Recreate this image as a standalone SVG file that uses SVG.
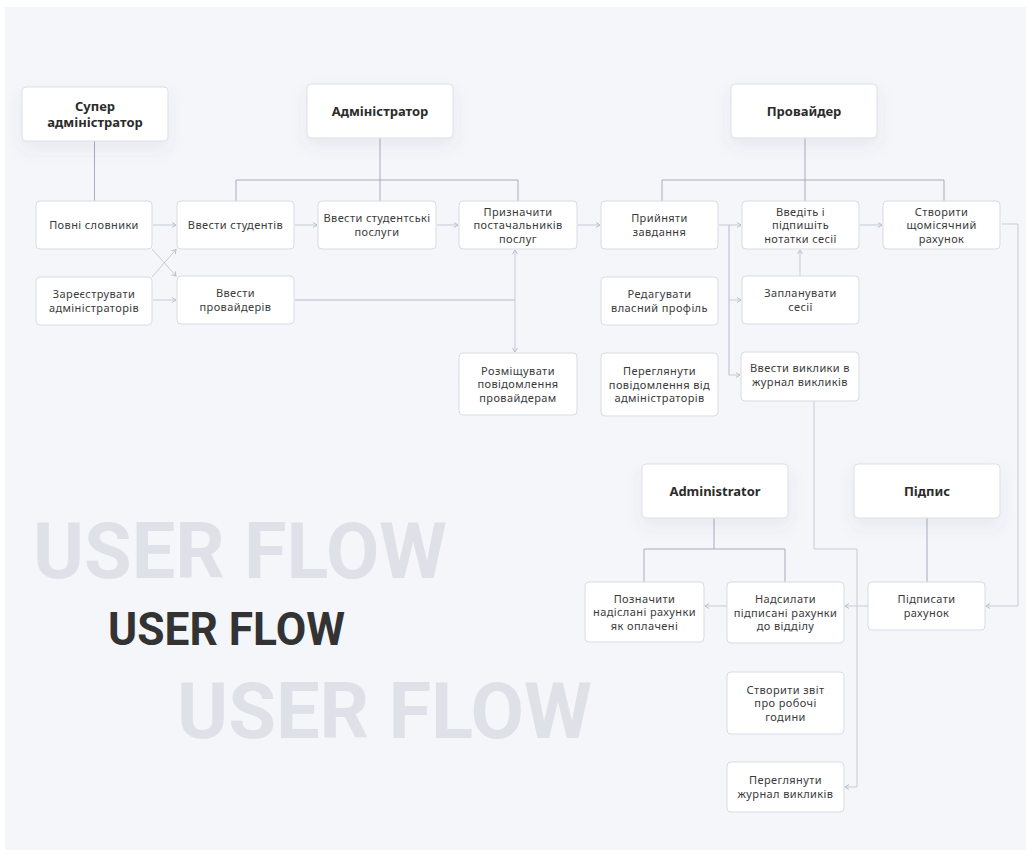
<svg xmlns="http://www.w3.org/2000/svg" width="1031" height="856" viewBox="0 0 1031 856">
<style>
.bg{fill:#f5f6fa}
.n{fill:#ffffff;stroke:#d8dbe3;stroke-width:1}
.h{fill:#ffffff;stroke:#dcdfe6;stroke-width:1;filter:url(#sh)}
.t{font-family:"Noto Sans","Open Sans","DejaVu Sans",sans-serif;font-size:11px;letter-spacing:0.4px;fill:#3a3a3a;text-anchor:middle}
.ht{font-family:"Noto Sans","Open Sans","DejaVu Sans",sans-serif;font-size:13px;font-weight:700;fill:#2b2b2b;text-anchor:middle}
.s{fill:none;stroke:#a3acc0;stroke-width:1}
.a{fill:none;stroke:#c6cbd7;stroke-width:1;marker-end:url(#ar)}
.m{fill:none;stroke:#b3bacb;stroke-width:1}
.uf{font-family:Roboto,"Liberation Sans",sans-serif;font-weight:700}
</style>
<defs>
<filter id="sh" x="-30%" y="-30%" width="160%" height="190%">
<feDropShadow dx="0" dy="8" stdDeviation="8" flood-color="#5a6275" flood-opacity="0.08"/>
</filter>
<marker id="ar" markerWidth="8" markerHeight="8" refX="5" refY="3" orient="auto" markerUnits="userSpaceOnUse">
<path d="M1,0.5 L5,3 L1,5.5" fill="none" stroke="#b9bfcd" stroke-width="1"/>
</marker>
</defs>
<rect x="0" y="0" width="1031" height="856" fill="#ffffff"/>
<rect class="bg" x="5" y="7" width="1021" height="843"/>

<g id="title">
<text class="uf" x="33" y="578" font-size="77" fill="#dfe1e8" textLength="414" lengthAdjust="spacingAndGlyphs">USER FLOW</text>
<text class="uf" x="108" y="645" font-size="46" fill="#333333" textLength="237" lengthAdjust="spacingAndGlyphs">USER FLOW</text>
<text class="uf" x="177" y="738" font-size="77" fill="#dfe1e8" textLength="415" lengthAdjust="spacingAndGlyphs">USER FLOW</text>
</g>

<g id="connectors">
<path class="s" d="M94.5,141 V201"/>
<path class="s" d="M380,138 V201"/>
<path class="s" d="M236,201 V180 H518 V201"/>
<path class="s" d="M805,138 V201"/>
<path class="s" d="M662,201 V180 H944 V201"/>
<path class="s" d="M714,518 V549"/>
<path class="s" d="M644,582 V549 H785 V582"/>
<path class="s" d="M927,518 V582"/>

<path class="a" d="M153,225 H176"/>
<path class="a" d="M152,249 L176,276"/>
<path class="a" d="M152,277 L176,249.5"/>
<path class="a" d="M153,300 H176"/>
<path class="a" d="M295,225 H317"/>
<path class="a" d="M437,225 H458"/>
<path class="a" d="M578,225 H600"/>
<path class="a" d="M719,225 H741"/>
<path class="a" d="M860,225 H882"/>
<path class="m" d="M295,300 H515"/>
<path class="a" d="M515,300 V250"/>
<path class="a" d="M515,300 V352"/>
<path class="a" d="M800,276 V250"/>
<path class="m" d="M729,225 V375"/>
<path class="a" d="M729,300 H741"/>
<path class="a" d="M729,375 H740"/>
<path class="a" d="M1002,224 H1018 V606 H986"/>
<path class="a" d="M868,606 H845"/>
<path class="a" d="M727,606 H705"/>
<path class="a" d="M814,401 V549 H857 V787 H845"/>
</g>

<g id="n-super"><rect class="h" x="22" y="87" width="146" height="54" rx="4"/><text class="ht" x="95" y="110.7">Супер</text><text class="ht" x="95" y="126.7">адміністратор</text></g>
<g id="n-admin"><rect class="h" x="307" y="84" width="146" height="54" rx="4"/><text class="ht" x="380" y="115.7">Адміністратор</text></g>
<g id="n-provider"><rect class="h" x="731" y="84" width="146" height="54" rx="4"/><text class="ht" x="804" y="115.7">Провайдер</text></g>
<g id="n-administrator"><rect class="h" x="642" y="464" width="146" height="54" rx="4"/><text class="ht" x="715" y="495.7">Administrator</text></g>
<g id="n-pidpys"><rect class="h" x="854" y="464" width="146" height="54" rx="4"/><text class="ht" x="927" y="495.7">Підпис</text></g>

<g id="n-povni"><rect class="n" x="36" y="201" width="116" height="48" rx="4"/><text class="t" x="94" y="229">Повні словники</text></g>
<g id="n-zareyestr"><rect class="n" x="36" y="277" width="116" height="48" rx="4"/><text class="t" x="94" y="298.2">Зареєструвати</text><text class="t" x="94" y="311.8">адміністраторів</text></g>
<g id="n-vvstud"><rect class="n" x="177" y="201" width="117" height="48" rx="4"/><text class="t" x="235.5" y="229">Ввести студентів</text></g>
<g id="n-vvprov"><rect class="n" x="177" y="276" width="117" height="48" rx="4"/><text class="t" x="235.5" y="297.2">Ввести</text><text class="t" x="235.5" y="310.8">провайдерів</text></g>
<g id="n-vvposl"><rect class="n" x="318" y="201" width="118" height="48" rx="4"/><text class="t" x="377" y="222.2">Ввести студентські</text><text class="t" x="377" y="235.8">послуги</text></g>
<g id="n-pryzn"><rect class="n" x="459" y="201" width="118" height="48" rx="4"/><text class="t" x="518" y="215.5">Призначити</text><text class="t" x="518" y="229">постачальників</text><text class="t" x="518" y="242.5">послуг</text></g>
<g id="n-rozm"><rect class="n" x="459" y="353" width="118" height="62" rx="4"/><text class="t" x="518" y="374.5">Розміщувати</text><text class="t" x="518" y="388">повідомлення</text><text class="t" x="518" y="401.5">провайдерам</text></g>
<g id="n-pryin"><rect class="n" x="601" y="201" width="117" height="48" rx="4"/><text class="t" x="659.5" y="222.2">Прийняти</text><text class="t" x="659.5" y="235.8">завдання</text></g>
<g id="n-redag"><rect class="n" x="601" y="277" width="117" height="48" rx="4"/><text class="t" x="659.5" y="298.2">Редагувати</text><text class="t" x="659.5" y="311.8">власний профіль</text></g>
<g id="n-pereg1"><rect class="n" x="601" y="353" width="117" height="63" rx="4"/><text class="t" x="659.5" y="375">Переглянути</text><text class="t" x="659.5" y="388.5">повідомлення від</text><text class="t" x="659.5" y="402">адміністраторів</text></g>
<g id="n-vvedit"><rect class="n" x="742" y="201" width="117" height="48" rx="4"/><text class="t" x="800.5" y="215.5">Введіть і</text><text class="t" x="800.5" y="229">підпишіть</text><text class="t" x="800.5" y="242.5">нотатки сесії</text></g>
<g id="n-zapl"><rect class="n" x="742" y="276" width="117" height="48" rx="4"/><text class="t" x="800.5" y="297.2">Запланувати</text><text class="t" x="800.5" y="310.8">сесії</text></g>
<g id="n-vvvykl"><rect class="n" x="741" y="352" width="118" height="49" rx="4"/><text class="t" x="800" y="372.2">Ввести виклики в</text><text class="t" x="800" y="385.8">журнал викликів</text></g>
<g id="n-stvrah"><rect class="n" x="883" y="201" width="117" height="48" rx="4"/><text class="t" x="941.5" y="215.5">Створити</text><text class="t" x="941.5" y="229">щомісячний</text><text class="t" x="941.5" y="242.5">рахунок</text></g>
<g id="n-pidprah"><rect class="n" x="868" y="582" width="117" height="48" rx="4"/><text class="t" x="926.5" y="603.2">Підписати</text><text class="t" x="926.5" y="616.8">рахунок</text></g>
<g id="n-nadsyl"><rect class="n" x="727" y="582" width="117" height="61" rx="4"/><text class="t" x="785.5" y="603">Надсилати</text><text class="t" x="785.5" y="616.5">підписані рахунки</text><text class="t" x="785.5" y="630">до відділу</text></g>
<g id="n-pozn"><rect class="n" x="585" y="582" width="119" height="60" rx="4"/><text class="t" x="644.5" y="602.5">Позначити</text><text class="t" x="644.5" y="616">надіслані рахунки</text><text class="t" x="644.5" y="629.5">як оплачені</text></g>
<g id="n-zvit"><rect class="n" x="727" y="672" width="117" height="62" rx="4"/><text class="t" x="785.5" y="693.5">Створити звіт</text><text class="t" x="785.5" y="707">про робочі</text><text class="t" x="785.5" y="720.5">години</text></g>
<g id="n-peregzh"><rect class="n" x="727" y="762" width="117" height="50" rx="4"/><text class="t" x="785.5" y="784.2">Переглянути</text><text class="t" x="785.5" y="797.8">журнал викликів</text></g>
</svg>
